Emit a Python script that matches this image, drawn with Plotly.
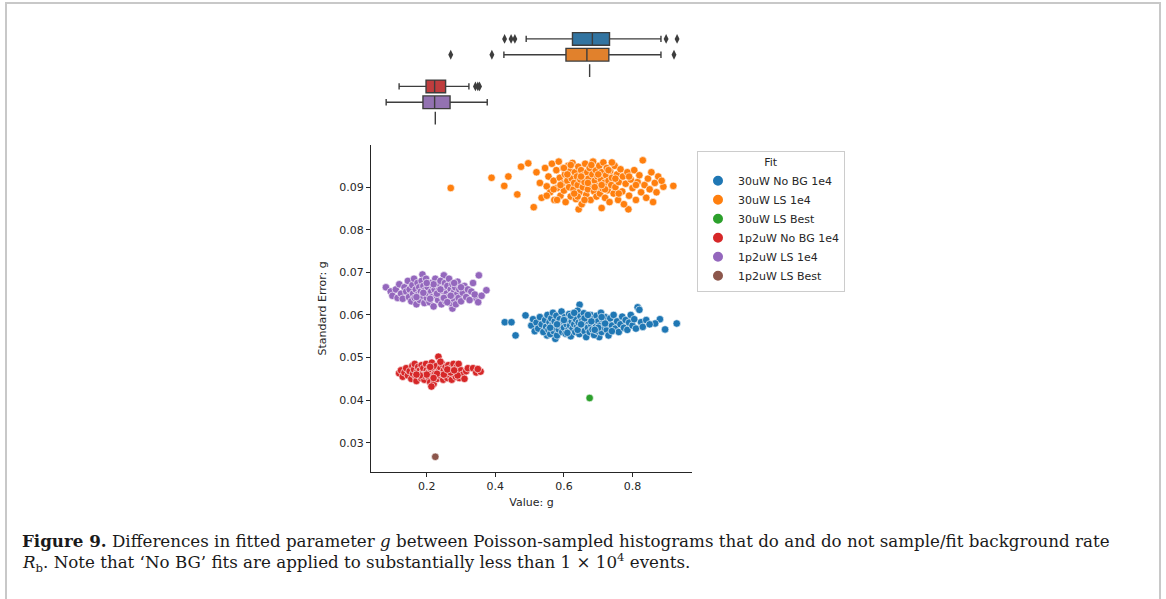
import plotly.graph_objects as go

# ---------------- data ----------------
SERIES = ["30uW No BG 1e4", "30uW LS 1e4", "30uW LS Best",
          "1p2uW No BG 1e4", "1p2uW LS 1e4", "1p2uW LS Best"]
COLORS = ["#1f77b4", "#ff7f0e", "#2ca02c", "#d62728", "#9467bd", "#8c564b"]
BOX_COLORS = ["#3274a1", "#e1812c", "#3a923a", "#c03d3e", "#9372b2", "#845b53"]

PTS_30_NOBG = [
    (0.4276, 0.0583), (0.447, 0.0583), (0.459, 0.0552), (0.488, 0.0599), (0.6457, 0.0624),
    (0.929, 0.0580), (0.815, 0.0618), (0.895, 0.0566), (0.88, 0.0590), (0.866, 0.0580),
    (0.575, 0.0544), (0.551, 0.0552), (0.703, 0.0548), (0.505, 0.0575), (0.51, 0.0590),
    (0.515, 0.0562), (0.52, 0.0582), (0.525, 0.0568), (0.53, 0.0595), (0.535, 0.0578),
    (0.54, 0.0560), (0.545, 0.0588), (0.548, 0.0572), (0.552, 0.0600), (0.555, 0.0565),
    (0.558, 0.0583), (0.56, 0.0555), (0.563, 0.0592), (0.565, 0.0575), (0.568, 0.0605),
    (0.57, 0.0562), (0.573, 0.0585), (0.576, 0.0570), (0.578, 0.0598), (0.58, 0.0552),
    (0.583, 0.0580), (0.585, 0.0566), (0.588, 0.0590), (0.59, 0.0575), (0.593, 0.0608),
    (0.595, 0.0560), (0.598, 0.0583), (0.60, 0.0570), (0.603, 0.0595), (0.605, 0.0556),
    (0.608, 0.0578), (0.61, 0.0588), (0.613, 0.0565), (0.615, 0.0602), (0.618, 0.0575),
    (0.62, 0.0550), (0.623, 0.0585), (0.625, 0.0568), (0.628, 0.0595), (0.63, 0.0578),
    (0.633, 0.0560), (0.635, 0.0590), (0.638, 0.0572), (0.64, 0.0610), (0.643, 0.0582),
    (0.645, 0.0555), (0.648, 0.0597), (0.65, 0.0568), (0.653, 0.0586), (0.655, 0.0575),
    (0.658, 0.0604), (0.66, 0.0562), (0.663, 0.0580), (0.665, 0.0548), (0.668, 0.0592),
    (0.67, 0.0570), (0.673, 0.0585), (0.675, 0.0560), (0.678, 0.0600), (0.68, 0.0576),
    (0.683, 0.0566), (0.685, 0.0590), (0.688, 0.0553), (0.69, 0.0582), (0.693, 0.0572),
    (0.695, 0.0598), (0.698, 0.0562), (0.70, 0.0585), (0.705, 0.0575), (0.708, 0.0605),
    (0.71, 0.0560), (0.715, 0.0588), (0.718, 0.0570), (0.72, 0.0595), (0.725, 0.0565),
    (0.728, 0.0580), (0.73, 0.0552), (0.735, 0.0592), (0.74, 0.0575), (0.745, 0.0600),
    (0.75, 0.0568), (0.755, 0.0585), (0.76, 0.0560), (0.765, 0.0578), (0.77, 0.0596),
    (0.775, 0.0570), (0.78, 0.0588), (0.785, 0.0565), (0.79, 0.0582), (0.795, 0.0600),
    (0.80, 0.0575), (0.805, 0.0590), (0.81, 0.0568), (0.82, 0.0612), (0.825, 0.0583),
    (0.83, 0.0572), (0.84, 0.0588), (0.85, 0.0578), (0.62, 0.0598), (0.64, 0.0565),
    (0.66, 0.0592), (0.68, 0.0585), (0.70, 0.0570), (0.72, 0.0580), (0.74, 0.0562),
    (0.60, 0.0588), (0.58, 0.0578), (0.56, 0.0570), (0.65, 0.0578), (0.67, 0.0600),
    (0.69, 0.0565), (0.71, 0.0595), (0.63, 0.0605), (0.61, 0.0558),
]

PTS_30_LS = [
    (0.27, 0.0898), (0.389, 0.0922), (0.426, 0.0903), (0.438, 0.0925), (0.464, 0.0883),
    (0.475, 0.0948), (0.496, 0.0956), (0.512, 0.0853), (0.830, 0.0963), (0.919, 0.0903),
    (0.890, 0.0901), (0.643, 0.0848), (0.788, 0.0848), (0.710, 0.0851), (0.52, 0.0935),
    (0.53, 0.0910), (0.535, 0.0875), (0.545, 0.0945), (0.55, 0.0902), (0.555, 0.0925),
    (0.56, 0.0888), (0.565, 0.0955), (0.57, 0.0915), (0.572, 0.0870), (0.578, 0.0940),
    (0.58, 0.0898), (0.585, 0.0960), (0.588, 0.0922), (0.59, 0.0880), (0.595, 0.0908),
    (0.598, 0.0945), (0.60, 0.0892), (0.603, 0.0930), (0.605, 0.0865), (0.61, 0.0915),
    (0.612, 0.0950), (0.615, 0.0900), (0.618, 0.0938), (0.62, 0.0878), (0.623, 0.0920),
    (0.625, 0.0957), (0.628, 0.0895), (0.63, 0.0910), (0.632, 0.0935), (0.635, 0.0872),
    (0.638, 0.0925), (0.64, 0.0905), (0.642, 0.0948), (0.645, 0.0888), (0.648, 0.0918),
    (0.65, 0.0940), (0.652, 0.0860), (0.655, 0.0900), (0.658, 0.0928), (0.66, 0.0912),
    (0.662, 0.0955), (0.665, 0.0882), (0.668, 0.0935), (0.67, 0.0895), (0.672, 0.0920),
    (0.675, 0.0945), (0.678, 0.0870), (0.68, 0.0908), (0.683, 0.0930), (0.685, 0.0960),
    (0.688, 0.0890), (0.69, 0.0915), (0.693, 0.0940), (0.695, 0.0878), (0.698, 0.0925),
    (0.70, 0.0902), (0.703, 0.0950), (0.705, 0.0885), (0.708, 0.0918), (0.71, 0.0935),
    (0.713, 0.0897), (0.715, 0.0958), (0.718, 0.0910), (0.72, 0.0875), (0.723, 0.0928),
    (0.725, 0.0945), (0.728, 0.0893), (0.73, 0.0915), (0.733, 0.0865), (0.735, 0.0938),
    (0.738, 0.0905), (0.74, 0.0922), (0.745, 0.0885), (0.748, 0.0950), (0.75, 0.0900),
    (0.755, 0.0930), (0.758, 0.0870), (0.76, 0.0912), (0.765, 0.0942), (0.77, 0.0890),
    (0.772, 0.0925), (0.775, 0.0860), (0.78, 0.0908), (0.785, 0.0935), (0.79, 0.0880),
    (0.795, 0.0918), (0.80, 0.0898), (0.805, 0.0940), (0.81, 0.0870), (0.815, 0.0912),
    (0.82, 0.0928), (0.825, 0.0888), (0.835, 0.0905), (0.84, 0.0875), (0.845, 0.0920),
    (0.85, 0.0895), (0.855, 0.0935), (0.86, 0.0865), (0.865, 0.0910), (0.87, 0.0888),
    (0.875, 0.0925), (0.885, 0.0915), (0.58, 0.0870), (0.60, 0.0945), (0.62, 0.0952),
    (0.64, 0.0878), (0.66, 0.0870), (0.68, 0.0952), (0.70, 0.0930), (0.72, 0.0895),
    (0.74, 0.0958), (0.76, 0.0885), (0.63, 0.0885), (0.65, 0.0925), (0.67, 0.0910),
    (0.69, 0.0900), (0.71, 0.0905), (0.73, 0.0940), (0.75, 0.0920), (0.61, 0.0930),
    (0.59, 0.0905), (0.57, 0.0895), (0.55, 0.0880), (0.79, 0.0925), (0.81, 0.0905),
]

PTS_30_BEST = [(0.675, 0.0405)]

PTS_1P2_NOBG = [
    (0.1195, 0.0463), (0.125, 0.0470), (0.13, 0.0455), (0.135, 0.0465), (0.14, 0.0475),
    (0.145, 0.0458), (0.15, 0.0468), (0.155, 0.0450), (0.158, 0.0480), (0.16, 0.0462),
    (0.163, 0.0472), (0.165, 0.0485), (0.168, 0.0455), (0.17, 0.0445), (0.173, 0.0468),
    (0.175, 0.0478), (0.178, 0.0460), (0.18, 0.0470), (0.183, 0.0452), (0.185, 0.0482),
    (0.188, 0.0465), (0.19, 0.0475), (0.193, 0.0448), (0.195, 0.0460), (0.198, 0.0485),
    (0.20, 0.0470), (0.203, 0.0455), (0.205, 0.0465), (0.208, 0.0478), (0.21, 0.0442),
    (0.213, 0.0468), (0.215, 0.0488), (0.218, 0.0458), (0.22, 0.0438), (0.223, 0.0472),
    (0.225, 0.0462), (0.228, 0.0480), (0.23, 0.0450), (0.234, 0.0502), (0.235, 0.0468),
    (0.238, 0.0458), (0.24, 0.0475), (0.243, 0.0463), (0.245, 0.0485), (0.248, 0.0448),
    (0.25, 0.0470), (0.253, 0.0458), (0.255, 0.0478), (0.258, 0.0465), (0.26, 0.0452),
    (0.263, 0.0482), (0.265, 0.0468), (0.268, 0.0458), (0.27, 0.0475), (0.273, 0.0448),
    (0.275, 0.0465), (0.278, 0.0485), (0.28, 0.0460), (0.283, 0.0472), (0.285, 0.0455),
    (0.288, 0.0478), (0.29, 0.0465), (0.293, 0.0485), (0.295, 0.0452), (0.30, 0.0470),
    (0.305, 0.0460), (0.31, 0.0450), (0.315, 0.0468), (0.32, 0.0475), (0.335, 0.0475),
    (0.3444, 0.0465), (0.357, 0.0467), (0.349, 0.0473), (0.2137, 0.0432), (0.19, 0.0458),
    (0.21, 0.0478), (0.23, 0.0462), (0.25, 0.0460), (0.27, 0.0465), (0.29, 0.0458),
    (0.22, 0.0452), (0.24, 0.0490), (0.26, 0.0472), (0.28, 0.0470), (0.20, 0.0460),
    (0.18, 0.0458), (0.17, 0.0460),
]

PTS_1P2_LS = [
    (0.081, 0.0665), (0.095, 0.0655), (0.374, 0.0658), (0.352, 0.0693), (0.250, 0.0693),
    (0.275, 0.0615), (0.1875, 0.0695), (0.343, 0.0640), (0.10, 0.0645), (0.11, 0.0660),
    (0.115, 0.0640), (0.12, 0.0672), (0.125, 0.0650), (0.13, 0.0638), (0.135, 0.0665),
    (0.14, 0.0655), (0.145, 0.0680), (0.148, 0.0642), (0.15, 0.0660), (0.155, 0.0632),
    (0.158, 0.0670), (0.16, 0.0650), (0.163, 0.0685), (0.165, 0.0640), (0.168, 0.0660),
    (0.17, 0.0625), (0.173, 0.0675), (0.175, 0.0648), (0.178, 0.0665), (0.18, 0.0635),
    (0.183, 0.0655), (0.185, 0.0680), (0.188, 0.0645), (0.19, 0.0668), (0.193, 0.0628),
    (0.195, 0.0658), (0.198, 0.0685), (0.20, 0.0640), (0.203, 0.0665), (0.205, 0.0650),
    (0.208, 0.0630), (0.21, 0.0675), (0.213, 0.0655), (0.215, 0.0642), (0.218, 0.0668),
    (0.22, 0.0620), (0.223, 0.0660), (0.225, 0.0685), (0.228, 0.0645), (0.23, 0.0672),
    (0.233, 0.0635), (0.235, 0.0658), (0.238, 0.0648), (0.24, 0.0680), (0.243, 0.0625),
    (0.245, 0.0662), (0.248, 0.0640), (0.25, 0.0655), (0.253, 0.0675), (0.255, 0.0632),
    (0.258, 0.0650), (0.26, 0.0668), (0.263, 0.0642), (0.265, 0.0685), (0.268, 0.0628),
    (0.27, 0.0660), (0.273, 0.0648), (0.275, 0.0672), (0.278, 0.0638), (0.28, 0.0655),
    (0.283, 0.0665), (0.285, 0.0625), (0.288, 0.0648), (0.29, 0.0678), (0.293, 0.0640),
    (0.295, 0.0660), (0.30, 0.0632), (0.305, 0.0652), (0.31, 0.0668), (0.315, 0.0642),
    (0.32, 0.0660), (0.325, 0.0635), (0.33, 0.0655), (0.335, 0.0675), (0.34, 0.0648),
    (0.35, 0.0630), (0.36, 0.0645), (0.21, 0.0638), (0.23, 0.0650), (0.25, 0.0640),
    (0.27, 0.0645), (0.19, 0.0652), (0.17, 0.0642), (0.26, 0.0630), (0.24, 0.0660),
    (0.22, 0.0672), (0.20, 0.0675), (0.28, 0.0675), (0.30, 0.0665),
]

PTS_1P2_BEST = [(0.225, 0.0267)]

ALL_PTS = [PTS_30_NOBG, PTS_30_LS, PTS_30_BEST, PTS_1P2_NOBG, PTS_1P2_LS, PTS_1P2_BEST]

# marginal box statistics per series
BOX_Q1 = [0.625, 0.606, 0.675, 0.198, 0.189, 0.225]
BOX_MED = [0.683, 0.667, 0.675, 0.223, 0.223, 0.225]
BOX_Q3 = [0.733, 0.731, 0.675, 0.255, 0.268, 0.225]
BOX_LO = [0.490, 0.425, 0.675, 0.1195, 0.0817, 0.225]
BOX_HI = [0.883, 0.883, 0.675, 0.323, 0.3764, 0.225]
OUTLIERS = [
    [0.427, 0.446, 0.457, 0.898, 0.930],
    [0.270, 0.390, 0.921],
    [],
    [0.342, 0.349, 0.354],
    [],
    [],
]

X_TICKS = [0.2, 0.4, 0.6, 0.8]
Y_TICKS = [0.03, 0.04, 0.05, 0.06, 0.07, 0.08, 0.09]

CAPTION_LINES = [
    ("<b>Figure 9.</b> Differences in fitted parameter <i>g</i> between Poisson-sampled "
     "histograms that do and do not sample/fit background rate"),
    ("<i>R</i><sub>b</sub>. Note that \u2018No BG\u2019 fits are applied to substantially "
     "less than 1 \u00d7 10<sup>4</sup> events."),
]

# ---------------- figure ----------------
W, H = 1166, 599
fig = go.Figure()

for name, color, pts in zip(SERIES, COLORS, ALL_PTS):
    fig.add_trace(go.Scatter(
        x=[p[0] for p in pts], y=[p[1] for p in pts], mode="markers", name=name,
        marker=dict(color=color, size=7.5, line=dict(color="white", width=0.6)),
        xaxis="x", yaxis="y", showlegend=True))

for i, bc in enumerate(BOX_COLORS):
    fig.add_trace(go.Box(
        y=[i], q1=[BOX_Q1[i]], median=[BOX_MED[i]], q3=[BOX_Q3[i]],
        lowerfence=[BOX_LO[i]], upperfence=[BOX_HI[i]], orientation="h",
        width=0.8, whiskerwidth=0.5, fillcolor=bc, boxpoints=False,
        line=dict(color="#3d3d3d", width=1.4), xaxis="x2", yaxis="y2",
        showlegend=False, hoverinfo="skip"))
    if OUTLIERS[i]:
        fig.add_trace(go.Scatter(
            x=OUTLIERS[i], y=[i] * len(OUTLIERS[i]), mode="markers",
            marker=dict(symbol="diamond-tall", size=7, color="#3d3d3d"),
            xaxis="x2", yaxis="y2", showlegend=False, hoverinfo="skip"))

xr = [0.0375, 0.9735]
dom_x = [371 / W, 692 / W]
axis_font = dict(family="DejaVu Sans", size=11, color="#262626")

caption_ann = []
for line, ycen in zip(CAPTION_LINES, [541, 562]):
    caption_ann.append(dict(
        text=line, xref="paper", yref="paper", x=20 / W, y=1 - ycen / H,
        xanchor="left", yanchor="middle", align="left", showarrow=False,
        font=dict(family="DejaVu Serif", size=16.7, color="#1a1a1a")))

fig.update_layout(
    width=W, height=H, autosize=False,
    margin=dict(l=0, r=0, t=0, b=0),
    paper_bgcolor="white", plot_bgcolor="white",
    font=axis_font,
    xaxis=dict(domain=dom_x, range=xr, tickvals=X_TICKS, tickformat=".1f",
               showline=True, linecolor="#262626", linewidth=1, mirror=False,
               ticks="outside", ticklen=4, tickwidth=1, tickcolor="#262626",
               showgrid=False, zeroline=False, anchor="y",
               title=dict(text="Value: g", standoff=6, font=axis_font)),
    yaxis=dict(domain=[1 - 471.7 / H, 1 - 145 / H], range=[0.0232, 0.0999],
               tickvals=Y_TICKS, tickformat=".2f",
               showline=True, linecolor="#262626", linewidth=1,
               ticks="outside", ticklen=4, tickwidth=1, tickcolor="#262626",
               showgrid=False, zeroline=False, anchor="x",
               title=dict(text="Standard Error: g", standoff=10, font=axis_font)),
    xaxis2=dict(domain=dom_x, range=xr, visible=False, anchor="y2", matches="x"),
    yaxis2=dict(domain=[1 - 126 / H, 1 - 31 / H], range=[5.5, -0.5], visible=False,
                anchor="x2"),
    legend=dict(x=697 / W, y=1 - 151 / H, xanchor="left", yanchor="top",
                bordercolor="#cccccc", borderwidth=1, bgcolor="white",
                font=dict(family="DejaVu Sans", size=11, color="#262626"),
                title=dict(text="Fit", side="top center",
                           font=dict(family="DejaVu Sans", size=11, color="#262626")),
                itemsizing="constant", tracegroupgap=0),
    shapes=[dict(type="rect", xref="paper", yref="paper",
                 x0=6 / W, x1=1160 / W, y0=-0.02, y1=1 - 3 / H,
                 line=dict(color="#c8c8c8", width=2), fillcolor="rgba(0,0,0,0)")],
    annotations=caption_ann,
)

fig.write_html("out.html", config={"displayModeBar": False})

# remove the browser's default page margin so the figure sits at (0, 0)
with open("out.html", "r", encoding="utf-8") as f:
    html = f.read()
html = html.replace("<body>", "<body style=\"margin:0;padding:0;overflow:hidden\">", 1)
with open("out.html", "w", encoding="utf-8") as f:
    f.write(html)
